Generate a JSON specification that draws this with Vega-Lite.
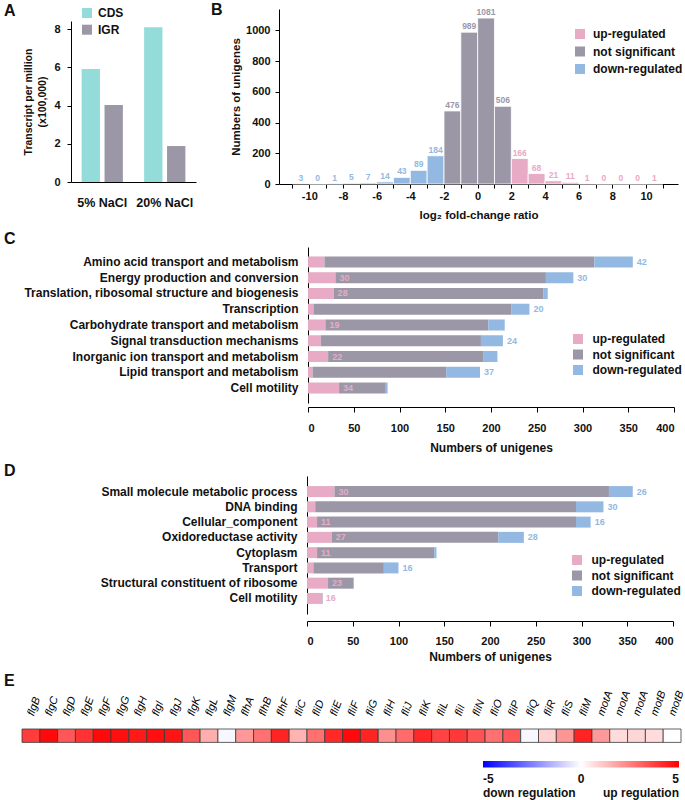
{
  "$schema": "https://vega.github.io/schema/vega-lite/v6.json",
  "background": "white",
  "padding": {"left": 4, "top": 2, "right": 0, "bottom": 2},
  "config": {
    "font": "Liberation Sans",
    "view": {"stroke": null},
    "axis": {"grid": false, "domainColor": "#000", "tickColor": "#000", "labelColor": "#111", "titleColor": "#111", "labelFontWeight": "bold", "titleFontWeight": "bold", "labelFontSize": 11, "titleFontSize": 11.5, "domainWidth": 1, "tickWidth": 1},
    "legend": {"labelFontWeight": "bold", "labelFontSize": 12, "labelColor": "#111", "symbolType": "square", "symbolSize": 100, "symbolStrokeWidth": 0, "symbolOpacity": 1, "padding": 0},
    "title": {"fontSize": 16, "fontWeight": "bold", "anchor": "start", "frame": "group", "color": "#111"}
  },
  "datasets": {
    "none": [],
    "tpm": [
      {"condition": "5% NaCl", "region": "CDS", "tpm": 5.91},
      {"condition": "5% NaCl", "region": "IGR", "tpm": 4.03},
      {"condition": "20% NaCl", "region": "CDS", "tpm": 8.09},
      {"condition": "20% NaCl", "region": "IGR", "tpm": 1.88}
    ],
    "hist": [
      {"lo": -11, "hi": -10, "n": 3, "cls": "down-regulated"},
      {"lo": -10, "hi": -9, "n": 0, "cls": "down-regulated"},
      {"lo": -9, "hi": -8, "n": 1, "cls": "down-regulated"},
      {"lo": -8, "hi": -7, "n": 5, "cls": "down-regulated"},
      {"lo": -7, "hi": -6, "n": 7, "cls": "down-regulated"},
      {"lo": -6, "hi": -5, "n": 14, "cls": "down-regulated"},
      {"lo": -5, "hi": -4, "n": 43, "cls": "down-regulated"},
      {"lo": -4, "hi": -3, "n": 89, "cls": "down-regulated"},
      {"lo": -3, "hi": -2, "n": 184, "cls": "down-regulated"},
      {"lo": -2, "hi": -1, "n": 476, "cls": "not significant"},
      {"lo": -1, "hi": 0, "n": 989, "cls": "not significant"},
      {"lo": 0, "hi": 1, "n": 1081, "cls": "not significant"},
      {"lo": 1, "hi": 2, "n": 506, "cls": "not significant"},
      {"lo": 2, "hi": 3, "n": 166, "cls": "up-regulated"},
      {"lo": 3, "hi": 4, "n": 68, "cls": "up-regulated"},
      {"lo": 4, "hi": 5, "n": 21, "cls": "up-regulated"},
      {"lo": 5, "hi": 6, "n": 11, "cls": "up-regulated"},
      {"lo": 6, "hi": 7, "n": 1, "cls": "up-regulated"},
      {"lo": 7, "hi": 8, "n": 0, "cls": "up-regulated"},
      {"lo": 8, "hi": 9, "n": 0, "cls": "up-regulated"},
      {"lo": 9, "hi": 10, "n": 0, "cls": "up-regulated"},
      {"lo": 10, "hi": 11, "n": 1, "cls": "up-regulated"}
    ],
    "cog": [
      {"cat": "Amino acid transport and metabolism", "type": "up-regulated", "o": 1, "value": 18, "label": ""},
      {"cat": "Amino acid transport and metabolism", "type": "not significant", "o": 2, "value": 295, "label": ""},
      {"cat": "Amino acid transport and metabolism", "type": "down-regulated", "o": 3, "value": 42, "label": "42"},
      {"cat": "Energy production and conversion", "type": "up-regulated", "o": 1, "value": 30, "label": "30"},
      {"cat": "Energy production and conversion", "type": "not significant", "o": 2, "value": 230, "label": ""},
      {"cat": "Energy production and conversion", "type": "down-regulated", "o": 3, "value": 30, "label": "30"},
      {"cat": "Translation, ribosomal structure and biogenesis", "type": "up-regulated", "o": 1, "value": 28, "label": "28"},
      {"cat": "Translation, ribosomal structure and biogenesis", "type": "not significant", "o": 2, "value": 229, "label": ""},
      {"cat": "Translation, ribosomal structure and biogenesis", "type": "down-regulated", "o": 3, "value": 5, "label": ""},
      {"cat": "Transcription", "type": "up-regulated", "o": 1, "value": 6, "label": ""},
      {"cat": "Transcription", "type": "not significant", "o": 2, "value": 216, "label": ""},
      {"cat": "Transcription", "type": "down-regulated", "o": 3, "value": 20, "label": "20"},
      {"cat": "Carbohydrate transport and metabolism", "type": "up-regulated", "o": 1, "value": 19, "label": "19"},
      {"cat": "Carbohydrate transport and metabolism", "type": "not significant", "o": 2, "value": 178, "label": ""},
      {"cat": "Carbohydrate transport and metabolism", "type": "down-regulated", "o": 3, "value": 18, "label": ""},
      {"cat": "Signal transduction mechanisms", "type": "up-regulated", "o": 1, "value": 14, "label": ""},
      {"cat": "Signal transduction mechanisms", "type": "not significant", "o": 2, "value": 175, "label": ""},
      {"cat": "Signal transduction mechanisms", "type": "down-regulated", "o": 3, "value": 24, "label": "24"},
      {"cat": "Inorganic ion transport and metabolism", "type": "up-regulated", "o": 1, "value": 22, "label": "22"},
      {"cat": "Inorganic ion transport and metabolism", "type": "not significant", "o": 2, "value": 170, "label": ""},
      {"cat": "Inorganic ion transport and metabolism", "type": "down-regulated", "o": 3, "value": 15, "label": ""},
      {"cat": "Lipid transport and metabolism", "type": "up-regulated", "o": 1, "value": 5, "label": ""},
      {"cat": "Lipid transport and metabolism", "type": "not significant", "o": 2, "value": 146, "label": ""},
      {"cat": "Lipid transport and metabolism", "type": "down-regulated", "o": 3, "value": 37, "label": "37"},
      {"cat": "Cell motility", "type": "up-regulated", "o": 1, "value": 34, "label": "34"},
      {"cat": "Cell motility", "type": "not significant", "o": 2, "value": 51, "label": ""},
      {"cat": "Cell motility", "type": "down-regulated", "o": 3, "value": 2, "label": ""}
    ],
    "go": [
      {"cat": "Small molecule metabolic process", "type": "up-regulated", "o": 1, "value": 30, "label": "30"},
      {"cat": "Small molecule metabolic process", "type": "not significant", "o": 2, "value": 300, "label": ""},
      {"cat": "Small molecule metabolic process", "type": "down-regulated", "o": 3, "value": 26, "label": "26"},
      {"cat": "DNA binding", "type": "up-regulated", "o": 1, "value": 9, "label": ""},
      {"cat": "DNA binding", "type": "not significant", "o": 2, "value": 285, "label": ""},
      {"cat": "DNA binding", "type": "down-regulated", "o": 3, "value": 30, "label": "30"},
      {"cat": "Cellular_component", "type": "up-regulated", "o": 1, "value": 11, "label": "11"},
      {"cat": "Cellular_component", "type": "not significant", "o": 2, "value": 283, "label": ""},
      {"cat": "Cellular_component", "type": "down-regulated", "o": 3, "value": 16, "label": "16"},
      {"cat": "Oxidoreductase activity", "type": "up-regulated", "o": 1, "value": 27, "label": "27"},
      {"cat": "Oxidoreductase activity", "type": "not significant", "o": 2, "value": 182, "label": ""},
      {"cat": "Oxidoreductase activity", "type": "down-regulated", "o": 3, "value": 28, "label": "28"},
      {"cat": "Cytoplasm", "type": "up-regulated", "o": 1, "value": 11, "label": "11"},
      {"cat": "Cytoplasm", "type": "not significant", "o": 2, "value": 128, "label": ""},
      {"cat": "Cytoplasm", "type": "down-regulated", "o": 3, "value": 2.5, "label": ""},
      {"cat": "Transport", "type": "up-regulated", "o": 1, "value": 7, "label": ""},
      {"cat": "Transport", "type": "not significant", "o": 2, "value": 77, "label": ""},
      {"cat": "Transport", "type": "down-regulated", "o": 3, "value": 16, "label": "16"},
      {"cat": "Structural constituent of ribosome", "type": "up-regulated", "o": 1, "value": 23, "label": "23"},
      {"cat": "Structural constituent of ribosome", "type": "not significant", "o": 2, "value": 28, "label": ""},
      {"cat": "Structural constituent of ribosome", "type": "down-regulated", "o": 3, "value": 0, "label": ""},
      {"cat": "Cell motility", "type": "up-regulated", "o": 1, "value": 16, "label": "16"},
      {"cat": "Cell motility", "type": "not significant", "o": 2, "value": 1, "label": ""},
      {"cat": "Cell motility", "type": "down-regulated", "o": 3, "value": 0, "label": ""}
    ],
    "flag": [
      {"gene": "flgB", "log2fc": 3.8}, {"gene": "flgC", "log2fc": 4.8}, {"gene": "flgD", "log2fc": 3.3},
      {"gene": "flgE", "log2fc": 4.0}, {"gene": "flgF", "log2fc": 4.8}, {"gene": "flgG", "log2fc": 4.7},
      {"gene": "flgH", "log2fc": 4.5}, {"gene": "flgI", "log2fc": 4.7}, {"gene": "flgJ", "log2fc": 4.6},
      {"gene": "flgK", "log2fc": 3.3}, {"gene": "flgL", "log2fc": 1.6}, {"gene": "flgM", "log2fc": -0.15},
      {"gene": "flhA", "log2fc": 2.0}, {"gene": "flhB", "log2fc": 2.8}, {"gene": "flhF", "log2fc": 4.3},
      {"gene": "fliC", "log2fc": 1.5}, {"gene": "fliD", "log2fc": 2.8}, {"gene": "fliE", "log2fc": 4.2},
      {"gene": "fliF", "log2fc": 4.8}, {"gene": "fliG", "log2fc": 4.3}, {"gene": "fliH", "log2fc": 2.2},
      {"gene": "fliJ", "log2fc": 2.9}, {"gene": "fliK", "log2fc": 4.2}, {"gene": "fliL", "log2fc": 3.7},
      {"gene": "fliI", "log2fc": 3.9}, {"gene": "fliN", "log2fc": 3.4}, {"gene": "fliO", "log2fc": 2.8},
      {"gene": "fliP", "log2fc": 3.3}, {"gene": "fliQ", "log2fc": -0.15}, {"gene": "fliR", "log2fc": 0.9},
      {"gene": "fliS", "log2fc": 2.1}, {"gene": "fliM", "log2fc": 4.3}, {"gene": "motA", "log2fc": 2.0},
      {"gene": "motA ", "log2fc": 0.7}, {"gene": "motA  ", "log2fc": 0.8}, {"gene": "motB", "log2fc": 0.7},
      {"gene": "motB ", "log2fc": 0.0}
    ]
  },
  "spacing": 10,
  "resolve": {"scale": {"color": "independent"}, "legend": {"color": "independent"}},
  "vconcat": [
    {
      "spacing": 0,
      "resolve": {"scale": {"color": "independent"}, "legend": {"color": "independent"}},
      "hconcat": [
        {"title": {"text": "A", "dx": -18, "offset": -10}, "width": 1, "height": 1, "data": {"name": "none"}, "mark": "point"},
        {
          "spacing": 15,
          "resolve": {"scale": {"color": "independent"}, "legend": {"color": "independent"}},
          "hconcat": [
            {
              "spacing": 0,
              "vconcat": [
                {"width": 1, "height": 12, "data": {"name": "none"}, "mark": "point"},
                {
                  "width": 125,
                  "height": 161,
                  "data": {"name": "tpm"},
                  "mark": {"type": "bar"},
                  "encoding": {
                    "x": {"field": "condition", "type": "nominal", "sort": ["5% NaCl", "20% NaCl"], "scale": {"paddingInner": 0.34, "paddingOuter": 0.17}, "axis": {"title": null, "labelAngle": 0, "ticks": false, "labelPadding": 14, "labelFontSize": 12.5}},
                    "xOffset": {"field": "region", "type": "nominal", "sort": ["CDS", "IGR"], "scale": {"paddingInner": 0.2}},
                    "y": {"field": "tpm", "type": "quantitative", "scale": {"domain": [0, 8.42], "nice": false}, "axis": {"values": [0, 2, 4, 6, 8], "title": ["Transcript per million", "(x100,000)"], "titleFontSize": 10.5, "tickSize": 4, "labelPadding": 7, "titlePadding": 6, "titleLineHeight": 14, "labelOverlap": false}},
                    "color": {"field": "region", "type": "nominal", "scale": {"domain": ["CDS", "IGR"], "range": ["#93dcd9", "#9b97a7"]}, "legend": {"orient": "none", "legendX": 10, "legendY": -2, "title": null, "rowPadding": 4.7, "labelOffset": 5}}
                  }
                }
              ]
            },
            {
              "title": {"text": "B", "dx": -68, "offset": -10},
              "width": 399,
              "height": 175,
              "data": {"name": "hist"},
              "encoding": {
                "x": {"field": "lo", "type": "quantitative", "scale": {"domain": [-11.8, 11.9], "nice": false, "zero": false}, "axis": {"title": "log₂ fold-change ratio", "values": [-11, -10, -9, -8, -7, -6, -5, -4, -3, -2, -1, 0, 1, 2, 3, 4, 5, 6, 7, 8, 9, 10, 11], "labelExpr": "datum.value % 2 == 0 ? replace(datum.label, '−', '-') : ''", "tickSize": 4, "labelPadding": 2, "titlePadding": 8, "labelOverlap": false}},
                "y": {"field": "n", "type": "quantitative", "scale": {"domain": [0, 1140], "nice": false}, "axis": {"title": "Numbers of unigenes", "values": [0, 200, 400, 600, 800, 1000], "format": "d", "tickSize": 4, "labelPadding": 5, "titlePadding": 4, "labelOverlap": false}},
                "color": {"field": "cls", "type": "nominal", "scale": {"domain": ["up-regulated", "not significant", "down-regulated"], "range": ["#e7abc5", "#9b97a7", "#93b9e2"]}, "legend": {"orient": "none", "legendX": 295, "legendY": 19, "title": null, "rowPadding": 5.5, "labelOffset": 7}}
              },
              "layer": [
                {
                  "data": {"values": [{}]},
                  "mark": {"type": "rule", "strokeDash": [2, 2], "strokeWidth": 1},
                  "encoding": {"x": {"datum": 0}, "y": {"datum": 1140}, "y2": {"datum": 0}, "color": {"value": "#8a8a8a"}}
                },
                {
                  "mark": {"type": "bar", "stroke": "white", "strokeWidth": 0.8},
                  "encoding": {"x2": {"field": "hi"}, "y2": {"datum": 0}}
                },
                {
                  "mark": {"type": "text", "baseline": "bottom", "dy": -1, "dx": 8.4, "fontSize": 8.5, "fontWeight": "bold"},
                  "encoding": {"text": {"field": "n", "type": "quantitative"}}
                }
              ]
            }
          ]
        }
      ]
    },
    {
      "spacing": 0,
      "resolve": {"scale": {"color": "independent"}, "legend": {"color": "independent"}},
      "hconcat": [
        {"title": {"text": "C", "dx": -18, "offset": 0}, "width": 1, "height": 1, "data": {"name": "none"}, "mark": "point"},
        {
          "width": 366,
          "height": 156,
          "data": {"name": "cog"},
          "encoding": {
            "y": {"field": "cat", "type": "nominal", "sort": ["Amino acid transport and metabolism", "Energy production and conversion", "Translation, ribosomal structure and biogenesis", "Transcription", "Carbohydrate transport and metabolism", "Signal transduction mechanisms", "Inorganic ion transport and metabolism", "Lipid transport and metabolism", "Cell motility"], "scale": {"paddingInner": 0.3, "paddingOuter": 0.6}, "axis": {"title": null, "ticks": false, "labelPadding": 10, "labelLimit": 400, "labelFontSize": 12, "minExtent": 284}},
            "x": {"field": "value", "type": "quantitative", "stack": "zero", "scale": {"domain": [0, 400], "nice": false}, "axis": {"values": [0, 50, 100, 150, 200, 250, 300, 350, 400], "title": "Numbers of unigenes", "offset": 4, "tickSize": 5, "labelPadding": 10, "titlePadding": 9, "titleFontSize": 12}},
            "order": {"field": "o", "type": "quantitative"},
            "color": {"field": "type", "type": "nominal", "scale": {"domain": ["up-regulated", "not significant", "down-regulated"], "range": ["#e7abc5", "#9b97a7", "#93b9e2"]}, "legend": {"orient": "none", "legendX": 264, "legendY": 86, "title": null, "rowPadding": 3.5, "labelOffset": 8.5}}
          },
          "layer": [
            {"mark": {"type": "bar"}},
            {"mark": {"type": "text", "align": "left", "dx": 4, "fontSize": 9, "fontWeight": "bold"}, "encoding": {"text": {"field": "label", "type": "nominal"}}}
          ]
        }
      ]
    },
    {
      "spacing": 0,
      "resolve": {"scale": {"color": "independent"}, "legend": {"color": "independent"}},
      "hconcat": [
        {"title": {"text": "D", "dx": -18, "offset": -3}, "width": 1, "height": 1, "data": {"name": "none"}, "mark": "point"},
        {
          "width": 366,
          "height": 138,
          "data": {"name": "go"},
          "encoding": {
            "y": {"field": "cat", "type": "nominal", "sort": ["Small molecule metabolic process", "DNA binding", "Cellular_component", "Oxidoreductase activity", "Cytoplasm", "Transport", "Structural constituent of ribosome", "Cell motility"], "scale": {"paddingInner": 0.28, "paddingOuter": 0.66}, "axis": {"title": null, "ticks": false, "labelPadding": 10, "labelLimit": 400, "labelFontSize": 12, "minExtent": 284}},
            "x": {"field": "value", "type": "quantitative", "stack": "zero", "scale": {"domain": [0, 400], "nice": false}, "axis": {"values": [0, 50, 100, 150, 200, 250, 300, 350, 400], "title": "Numbers of unigenes", "offset": 7, "tickSize": 5, "labelPadding": 9, "titlePadding": 5, "titleFontSize": 12}},
            "order": {"field": "o", "type": "quantitative"},
            "color": {"field": "type", "type": "nominal", "scale": {"domain": ["up-regulated", "not significant", "down-regulated"], "range": ["#e7abc5", "#9b97a7", "#93b9e2"]}, "legend": {"orient": "none", "legendX": 264, "legendY": 78, "title": null, "rowPadding": 3.5, "labelOffset": 8.5}}
          },
          "layer": [
            {"mark": {"type": "bar"}},
            {"mark": {"type": "text", "align": "left", "dx": 4, "fontSize": 9, "fontWeight": "bold"}, "encoding": {"text": {"field": "label", "type": "nominal"}}}
          ]
        }
      ]
    },
    {
      "title": {"text": "E", "dx": -18, "offset": 0},
      "width": 659,
      "height": 13.4,
      "data": {"name": "flag"},
      "mark": {"type": "rect", "stroke": "#3a3a3a", "strokeWidth": 0.8},
      "encoding": {
        "x": {"field": "gene", "type": "nominal", "sort": null, "scale": {"paddingInner": 0, "paddingOuter": 0}, "axis": {"orient": "top", "title": null, "ticks": false, "domain": false, "labelAngle": -70, "labelAlign": "left", "labelBaseline": "middle", "labelPadding": 14, "labelFontStyle": "italic", "labelFontWeight": "normal", "labelFontSize": 11, "labelColor": "#000", "labelOverlap": false}},
        "color": {"field": "log2fc", "type": "quantitative", "scale": {"domain": [-5, 0, 5], "range": ["#0000ff", "#ffffff", "#ff0000"], "interpolate": "rgb"}, "legend": {"orient": "none", "direction": "horizontal", "legendX": 461, "legendY": 32, "title": null, "gradientLength": 196, "gradientThickness": 6.6, "gradientStrokeWidth": 0, "values": [-5, 0, 5], "labelExpr": "datum.value < -4 ? ['-5', 'down regulation'] : datum.value > 4 ? ['5', 'up regulation'] : '0'", "labelOverlap": false, "labelOffset": 6, "labelFontSize": 12}}
      }
    }
  ]
}
